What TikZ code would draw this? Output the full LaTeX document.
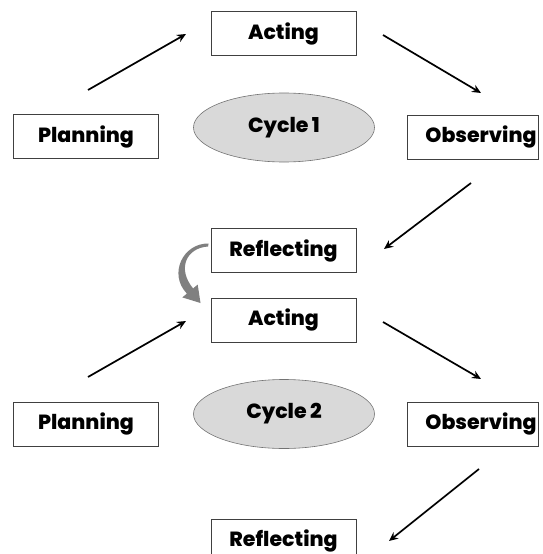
\documentclass[tikz,border=0pt]{standalone}
\usepackage{fontspec}
\setmainfont{Poppins}
\newfontfamily\heavyfont{Poppins ExtraBold}
\usetikzlibrary{arrows.meta,positioning,shapes.geometric}

\begin{document}
\begin{tikzpicture}[x=1pt,y=-1pt]
\tikzset{stage/.style={draw=black!75, line width=0.8pt, minimum width=145pt, minimum height=44pt, inner sep=0pt, font=\heavyfont\fontsize{20.5}{24}\selectfont}}
\tikzset{obs/.style={stage, minimum width=131pt, text width=128pt, align=right}}
\tikzset{cyc/.style={ellipse, draw=black!55, fill=black!15, line width=0.6pt, minimum width=181pt, minimum height=69pt, inner sep=0pt, font=\heavyfont\fontsize{20.5}{24}\selectfont}}
\tikzset{flow/.style={draw=black, line width=1.7pt, -{Stealth[length=9pt,width=8pt]}}}

\useasboundingbox (0,0) rectangle (542,554);

% cycle 1
\node [stage] (A1) at (283.5,33.5) {Acting};
\node [stage] (P1) at (86,136.5) {Planning};
\node [cyc] (C1) at (284,127.5) {\raisebox{2pt}{Cycle\,1}};
\node [obs] (O1) at (472.5,137) {Observing};
\node [stage] (R1) at (283.5,250.5) {Reflecting};

% cycle 2
\node [stage] (A2) at (283.5,320) {Acting};
\node [stage] (P2) at (86,424) {Planning};
\node [cyc] (C2) at (284,414) {\raisebox{2pt}{Cycle\,2}};
\node [obs] (O2) at (472.5,424) {Observing};
\node [stage] (R2) at (283.5,541) {Reflecting};

% arrow ends
\coordinate (p1s) at (88,90);   \coordinate (a1e) at (186,34);
\coordinate (a1s) at (383,35);  \coordinate (o1e) at (481,93);
\coordinate (o1s) at (471,183); \coordinate (r1e) at (384,249);
\coordinate (p2s) at (88,377);  \coordinate (a2e) at (186,321);
\coordinate (a2s) at (383,322); \coordinate (o2e) at (481,379);
\coordinate (o2s) at (479,469); \coordinate (r2e) at (389,541);

\path [flow] (p1s) -- (a1e);
\path [flow] (a1s) -- (o1e);
\path [flow] (o1s) -- (r1e);
\path [flow] (p2s) -- (a2e);
\path [flow] (a2s) -- (o2e);
\path [flow] (o2s) -- (r2e);

% link between the cycles (tapered grey arrow)
\fill [black!50] (R1.west) ++(-2,-7) .. controls (183,243) and (168,274) .. (186.9,293.6)
  -- (182.3,297.4) -- (200.5,303) -- (197.7,284.6) -- (193.1,288.4)
  .. controls (177,269) and (186,248) .. (208,246.5) -- cycle;

\end{tikzpicture}
\end{document}
